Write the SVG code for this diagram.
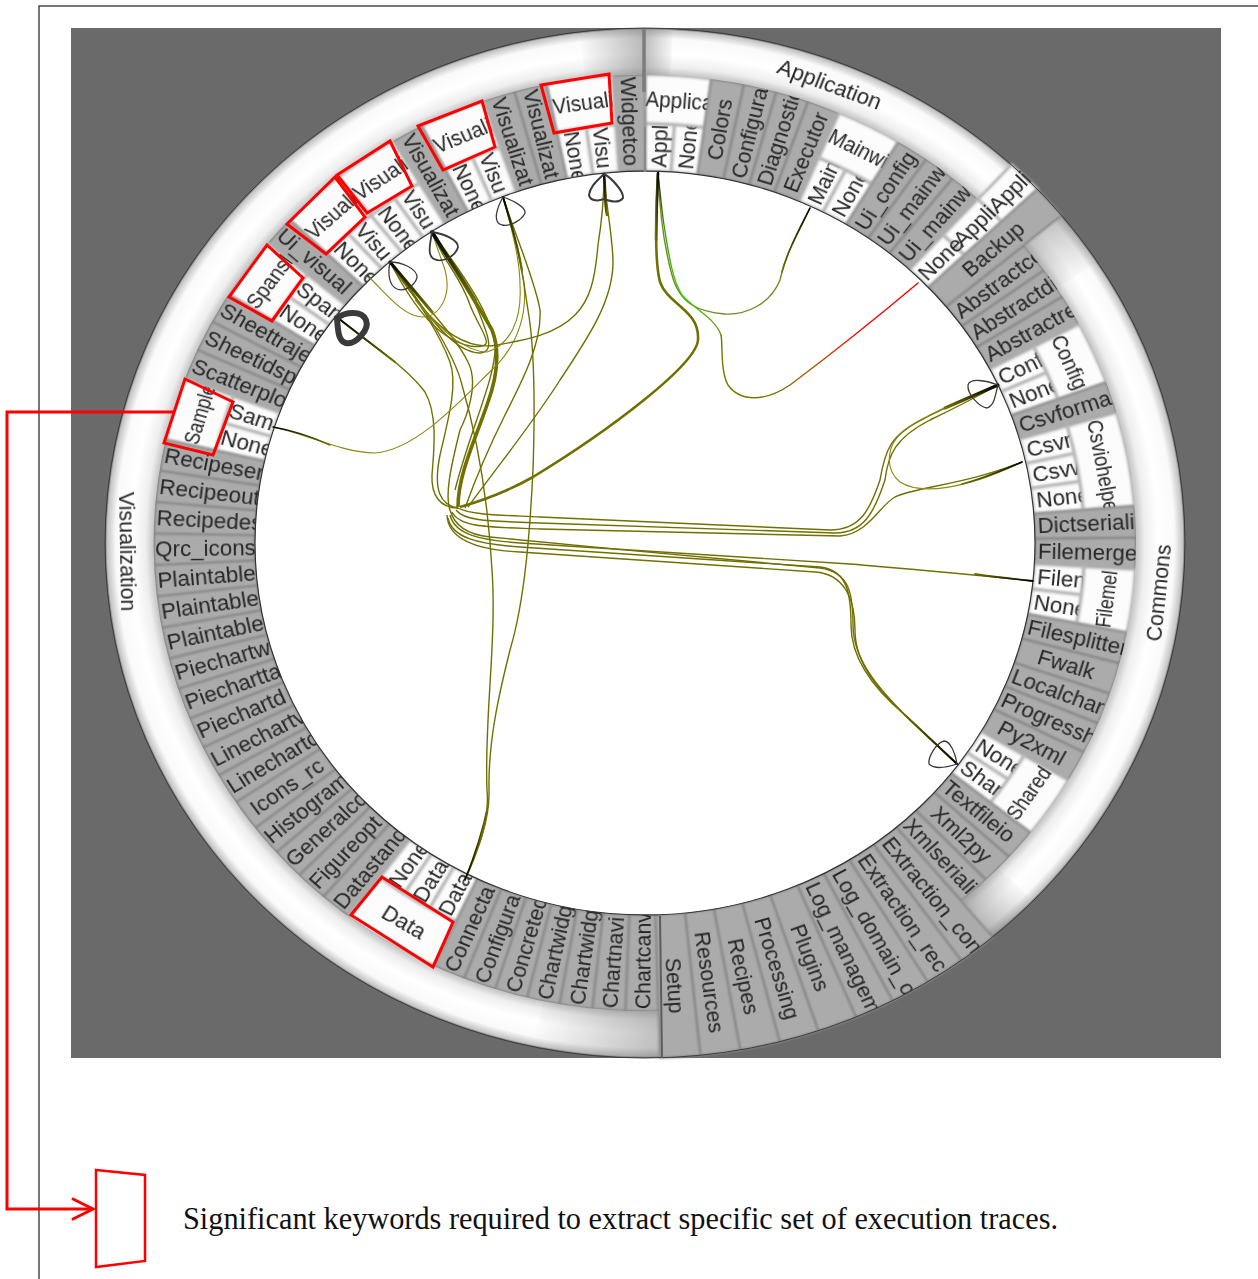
<svg xmlns="http://www.w3.org/2000/svg" width="1258" height="1279" viewBox="0 0 1258 1279">
<style>
text{font-family:"Liberation Sans",Arial,sans-serif;font-size:22.4px;fill:#262626;dominant-baseline:central;filter:url(#tb)}
.r{transform:rotate(-90deg)}
.l{transform:rotate(90deg)}
.m{text-anchor:middle}
.g{fill:#ababab;stroke:#868686;stroke-width:1.7;filter:url(#sb)}
.w{fill:#fcfcfc;stroke:#b8b8b8;stroke-width:3;filter:url(#sb)}
.cn{clip-path:url(#cn)}
.cb{clip-path:url(#cb)}
.cd{clip-path:url(#cd)}
.cs{clip-path:url(#cs)}
.e{fill:none;stroke:#707000;stroke-width:1.4}
.f{stroke:#8a8a10;stroke-width:1.1}
.t{fill:none;stroke-linecap:round}
.o{fill:none;stroke:#3a3a3a;stroke-width:1.3}
.x{fill:none;stroke:#f00;stroke-width:3;stroke-linejoin:miter}
#legend-text{font-family:"Liberation Serif","Times New Roman",serif;font-size:31px;fill:#111;dominant-baseline:auto;filter:none}
</style>
<defs>
<filter id="sb" x="-20%" y="-10%" width="140%" height="120%"><feGaussianBlur stdDeviation="1.2"/></filter>
<filter id="tb" x="-10%" y="-30%" width="120%" height="160%"><feGaussianBlur stdDeviation=".5"/></filter>
<path id="g" d="M-13.22-389.78L-16.64-490.72A491 491 0 0 1 16.64-490.72L13.22-389.78A390 390 0 0 0-13.22-389.78Z"/>
<path id="n" d="M-13.22-389.78L-14.91-439.75A440 440 0 0 1 14.91-439.75L13.22-389.78A390 390 0 0 0-13.22-389.78Z"/>
<path id="b" d="M-29.81-439L-33.27-489.87A491 491 0 0 1 33.27-489.87L29.81-439A440 440 0 0 0-29.81-439Z"/>
<path id="d" d="M-44.47-437.75L-49.62-488.49A491 491 0 0 1 49.62-488.49L44.47-437.75A440 440 0 0 0-44.47-437.75Z"/>
<path id="k" d="M-13.22-389.78L-18.31-539.69A540 540 0 0 1 18.31-539.69L13.22-389.78A390 390 0 0 0-13.22-389.78Z"/>
<path id="s" d="M-14.56-389.73L-20.16-539.62A540 540 0 0 1 20.16-539.62L14.56-389.73A390 390 0 0 0-14.56-389.73Z"/>
<path id="p" d="M-14.91-439.75L-16.64-490.72A491 491 0 0 1 16.64-490.72L14.91-439.75A440 440 0 0 0-14.91-439.75Z"/>
<path id="q" d="M-16.64-490.72L-18.31-539.69A540 540 0 0 1 18.31-539.69L16.64-490.72A491 491 0 0 0-16.64-490.72Z"/>
<clipPath id="cn"><use href="#n"/></clipPath>
<clipPath id="cb"><use href="#b"/></clipPath>
<clipPath id="cd"><use href="#d"/></clipPath>
<clipPath id="cs"><use href="#s"/></clipPath>
<radialGradient id="ring" gradientUnits="userSpaceOnUse" cx="0" cy="0" r="540">
<stop offset=".905" stop-color="#b8b8b8"/><stop offset=".925" stop-color="#eeeeee"/><stop offset=".95" stop-color="#fff"/><stop offset=".98" stop-color="#fafafa"/><stop offset=".996" stop-color="#c4c4c4"/><stop offset="1" stop-color="#5c5c5c"/>
</radialGradient>
<linearGradient id="f1" gradientUnits="userSpaceOnUse" x1="-66" y1="0" x2="0" y2="0"><stop offset="0" stop-color="#808080" stop-opacity="0"/><stop offset="1" stop-color="#808080" stop-opacity=".55"/></linearGradient>
<linearGradient id="f2" gradientUnits="userSpaceOnUse" x1="15" y1="0" x2="-112" y2="0"><stop offset="0" stop-color="#808080" stop-opacity=".5"/><stop offset="1" stop-color="#808080" stop-opacity="0"/></linearGradient>
<linearGradient id="f3" gradientUnits="userSpaceOnUse" x1="395" y1="-330" x2="435" y2="-275"><stop offset="0" stop-color="#808080" stop-opacity=".45"/><stop offset="1" stop-color="#808080" stop-opacity="0"/></linearGradient>
<linearGradient id="f4" gradientUnits="userSpaceOnUse" x1="332" y1="395" x2="375" y2="355"><stop offset="0" stop-color="#707070" stop-opacity=".5"/><stop offset="1" stop-color="#808080" stop-opacity="0"/></linearGradient>
<linearGradient id="f5" gradientUnits="userSpaceOnUse" x1="0" y1="0" x2="30" y2="0"><stop offset="0" stop-color="#808080" stop-opacity=".5"/><stop offset="1" stop-color="#808080" stop-opacity="0"/></linearGradient>
<linearGradient id="tl" x1="0" y1="0" x2="1" y2="1"><stop offset="0" stop-color="#000"/><stop offset="1" stop-color="#707000"/></linearGradient>
<linearGradient id="tr" x1="1" y1="0" x2="0" y2="1"><stop offset="0" stop-color="#000"/><stop offset="1" stop-color="#707000"/></linearGradient>
<linearGradient id="bl" x1="0" y1="1" x2="1" y2="0"><stop offset="0" stop-color="#000"/><stop offset="1" stop-color="#707000"/></linearGradient>
<linearGradient id="br" x1="1" y1="1" x2="0" y2="0"><stop offset="0" stop-color="#000"/><stop offset="1" stop-color="#707000"/></linearGradient>
<linearGradient id="rg" gradientUnits="userSpaceOnUse" x1="918" y1="283" x2="760" y2="400"><stop offset="0" stop-color="#e00"/><stop offset=".35" stop-color="#f00"/><stop offset=".7" stop-color="#a85a00"/><stop offset="1" stop-color="#767600"/></linearGradient>
<linearGradient id="gg" gradientUnits="userSpaceOnUse" x1="721" y1="340" x2="660" y2="175"><stop offset="0" stop-color="#708a00"/><stop offset=".3" stop-color="#3ccc14"/><stop offset=".7" stop-color="#3f9a00"/><stop offset="1" stop-color="#222"/></linearGradient>
</defs>
<rect width="1258" height="1279" fill="#fff"/>
<path d="M39 1279V6H1258" fill="none" stroke="#4a4a4a" stroke-width="1.5"/>
<rect x="71" y="28" width="1150" height="1030" fill="#6a6a6a"/>
<g id="wheel" transform="translate(645 543) scale(1 .9537)">
<g id="cells">
<g id="applica-appli" transform="rotate(1.94)"><use href="#n" class="w"/><g class="cn"><text class="r" x="394">Appli</text></g></g>
<g id="applica-none" transform="rotate(5.83)"><use href="#n" class="w"/><g class="cn"><text class="r" x="394">None</text></g></g>
<g id="applica" transform="rotate(3.885)"><use href="#b" class="w"/><g class="cb"><text x="-31" y="-465" textLength="68" lengthAdjust="spacingAndGlyphs">Applica</text></g></g>
<g id="colors" transform="rotate(9.71)"><use href="#g" class="g"/><text class="r m" x="440">Colors</text></g>
<g id="configura" transform="rotate(13.6)"><use href="#g" class="g"/><text class="r" x="394">Configura</text></g>
<g id="diagnosti" transform="rotate(17.48)"><use href="#g" class="g"/><text class="r" x="394">Diagnostic</text></g>
<g id="executor" transform="rotate(21.37)"><use href="#g" class="g"/><text class="r" x="396">Executor</text></g>
<g id="mainwi-main" transform="rotate(25.25)"><use href="#n" class="w"/><g class="cn"><text class="r" x="394">Main</text></g></g>
<g id="mainwi-none" transform="rotate(29.14)"><use href="#n" class="w"/><g class="cn"><text class="r" x="394">None</text></g></g>
<g id="mainwi" transform="rotate(27.2)"><use href="#b" class="w"/><g class="cb"><text x="-31" y="-465" textLength="64" lengthAdjust="spacingAndGlyphs">Mainwi</text></g></g>
<g id="ui-config" transform="rotate(33.02)"><use href="#g" class="g"/><text class="r" x="394">Ui_config</text></g>
<g id="ui-mainw1" transform="rotate(36.91)"><use href="#g" class="g"/><text class="r" x="394">Ui_mainw</text></g>
<g id="ui-mainw2" transform="rotate(40.79)"><use href="#g" class="g"/><text class="r" x="394">Ui_mainw</text></g>
<g id="abstractco" transform="rotate(52.44)"><use href="#g" class="g"/><text class="r" x="394">Abstractco</text></g>
<g id="abstractd" transform="rotate(56.33)"><use href="#g" class="g"/><text class="r" x="394">Abstractdi</text></g>
<g id="abstractre" transform="rotate(60.22)"><use href="#g" class="g"/><text class="r" x="394">Abstractre</text></g>
<g id="conf" transform="rotate(64.1)"><use href="#n" class="w"/><g class="cn"><text class="r" x="394">Conf</text></g></g>
<g id="conf-none" transform="rotate(67.99)"><use href="#n" class="w"/><g class="cn"><text class="r" x="394">None</text></g></g>
<g id="config" transform="rotate(66.05)"><use href="#b" class="w"/><g class="cb"><text x="-31" y="-465" textLength="60" lengthAdjust="spacingAndGlyphs">Config</text></g></g>
<g id="csvforma" transform="rotate(71.88)"><use href="#g" class="g"/><text class="r" x="394">Csvforma</text></g>
<g id="csvr" transform="rotate(75.77)"><use href="#n" class="w"/><g class="cn"><text class="r" x="394">Csvr</text></g></g>
<g id="csvw" transform="rotate(79.65)"><use href="#n" class="w"/><g class="cn"><text class="r" x="394">Csvw</text></g></g>
<g id="csv-none" transform="rotate(83.54)"><use href="#n" class="w"/><g class="cn"><text class="r" x="394">None</text></g></g>
<g id="csviohelpe" transform="rotate(79.65)"><use href="#d" class="w"/><g class="cd"><text x="-46" y="-465" textLength="97" lengthAdjust="spacingAndGlyphs">Csviohelpe</text></g></g>
<g id="dictseriali" transform="rotate(87.43)"><use href="#g" class="g"/><text class="r" x="393">Dictseriali</text></g>
<g id="filemerge" transform="rotate(91.32)"><use href="#g" class="g"/><text class="r" x="393">Filemerge</text></g>
<g id="filen" transform="rotate(95.2)"><use href="#n" class="w"/><g class="cn"><text class="r" x="394">Filen</text></g></g>
<g id="filen-none" transform="rotate(99.09)"><use href="#n" class="w"/><g class="cn"><text class="r" x="394">None</text></g></g>
<g id="filemel" transform="rotate(97.15)"><use href="#b" class="w"/><g class="cb"><text transform="rotate(180 0 -465)" x="-31" y="-465" textLength="60" lengthAdjust="spacingAndGlyphs">Filemel</text></g></g>
<g id="filesplitter" transform="rotate(102.98)"><use href="#g" class="g"/><text class="r" x="393">Filesplitter</text></g>
<g id="fwalk" transform="rotate(106.87)"><use href="#g" class="g"/><text class="r m" x="440">Fwalk</text></g>
<g id="localchar" transform="rotate(110.75)"><use href="#g" class="g"/><text class="r" x="393">Localchar</text></g>
<g id="progressh" transform="rotate(114.64)"><use href="#g" class="g"/><text class="r" x="393">Progressh</text></g>
<g id="py2xml" transform="rotate(118.53)"><use href="#g" class="g"/><text class="r m" x="440">Py2xml</text></g>
<g id="shared-none" transform="rotate(122.42)"><use href="#n" class="w"/><g class="cn"><text class="r" x="394">None</text></g></g>
<g id="shar" transform="rotate(126.3)"><use href="#n" class="w"/><g class="cn"><text class="r" x="394">Shar</text></g></g>
<g id="shared" transform="rotate(124.36)"><use href="#b" class="w"/><g class="cb"><text transform="rotate(180 0 -465)" x="-31" y="-465" textLength="62" lengthAdjust="spacingAndGlyphs">Shared</text></g></g>
<g id="textfileio" transform="rotate(130.19)"><use href="#g" class="g"/><text class="r" x="393">Textfileio</text></g>
<g id="xml2py" transform="rotate(134.08)"><use href="#g" class="g"/><text class="r m" x="440">Xml2py</text></g>
<g id="xmlseriali" transform="rotate(137.97)"><use href="#g" class="g"/><text class="r" x="393">Xmlseriali</text></g>
<g id="widgetco" transform="rotate(-1.93)"><use href="#g" class="g"/><text class="l" x="-489">Widgetco</text></g>
<g id="v1-visu" transform="rotate(-5.8)"><use href="#n" class="w"/><g class="cn"><text class="l" x="-438">Visu</text></g></g>
<g id="v1-none" transform="rotate(-9.66)"><use href="#n" class="w"/><g class="cn"><text class="l" x="-438">None</text></g></g>
<g id="v1" transform="rotate(-7.73)"><use href="#b" class="w"/><g class="cb"><text x="-30" y="-465" textLength="61" lengthAdjust="spacingAndGlyphs">Visuali</text></g></g>
<g id="visualizat1" transform="rotate(-13.52)"><use href="#g" class="g"/><text class="l" x="-489">Visualizat</text></g>
<g id="visualizat2" transform="rotate(-17.39)"><use href="#g" class="g"/><text class="l" x="-489">Visualizat</text></g>
<g id="v2-visu" transform="rotate(-21.25)"><use href="#n" class="w"/><g class="cn"><text class="l" x="-438">Visu</text></g></g>
<g id="v2-none" transform="rotate(-25.12)"><use href="#n" class="w"/><g class="cn"><text class="l" x="-438">None</text></g></g>
<g id="v2" transform="rotate(-23.18)"><use href="#b" class="w"/><g class="cb"><text x="-30" y="-465" textLength="61" lengthAdjust="spacingAndGlyphs">Visuali</text></g></g>
<g id="visualizat3" transform="rotate(-28.98)"><use href="#g" class="g"/><text class="l" x="-489">Visualizat</text></g>
<g id="v3-visu" transform="rotate(-32.85)"><use href="#n" class="w"/><g class="cn"><text class="l" x="-438">Visu</text></g></g>
<g id="v3-none" transform="rotate(-36.71)"><use href="#n" class="w"/><g class="cn"><text class="l" x="-438">None</text></g></g>
<g id="v3" transform="rotate(-34.78)"><use href="#b" class="w"/><g class="cb"><text x="-30" y="-465" textLength="61" lengthAdjust="spacingAndGlyphs">Visuali</text></g></g>
<g id="v4-visu" transform="rotate(-40.57)"><use href="#n" class="w"/><g class="cn"><text class="l" x="-438">Visu</text></g></g>
<g id="v4-none" transform="rotate(-44.44)"><use href="#n" class="w"/><g class="cn"><text class="l" x="-438">None</text></g></g>
<g id="v4" transform="rotate(-42.5)"><use href="#b" class="w"/><g class="cb"><text x="-30" y="-465" textLength="61" lengthAdjust="spacingAndGlyphs">Visuali</text></g></g>
<g id="ui-visual" transform="rotate(-48.3)"><use href="#g" class="g"/><text class="l" x="-489">Ui_visual</text></g>
<g id="span" transform="rotate(-52.16)"><use href="#n" class="w"/><g class="cn"><text class="l" x="-438">Span</text></g></g>
<g id="span-none" transform="rotate(-56.03)"><use href="#n" class="w"/><g class="cn"><text class="l" x="-438">None</text></g></g>
<g id="spansl" transform="rotate(-54.1)"><use href="#b" class="w"/><g class="cb"><text x="-30" y="-465" textLength="63" lengthAdjust="spacingAndGlyphs">Spansl</text></g></g>
<g id="sheettraj" transform="rotate(-59.89)"><use href="#g" class="g"/><text class="l" x="-489">Sheettraje</text></g>
<g id="sheetids" transform="rotate(-63.76)"><use href="#g" class="g"/><text class="l" x="-489">Sheetidsp</text></g>
<g id="scatterplo" transform="rotate(-67.62)"><use href="#g" class="g"/><text class="l" x="-489">Scatterplo</text></g>
<g id="sam" transform="rotate(-71.48)"><use href="#n" class="w"/><g class="cn"><text class="l" x="-438">Sam</text></g></g>
<g id="sam-none" transform="rotate(-75.35)"><use href="#n" class="w"/><g class="cn"><text class="l" x="-438">None</text></g></g>
<g id="sample" transform="rotate(-73.4)"><use href="#b" class="w"/><g class="cb"><text x="-30" y="-465" textLength="64" lengthAdjust="spacingAndGlyphs">Sample</text></g></g>
<g id="recipese" transform="rotate(-79.21)"><use href="#g" class="g"/><text class="l" x="-489">Recipeser</text></g>
<g id="recipeou" transform="rotate(-83.08)"><use href="#g" class="g"/><text class="l" x="-489">Recipeout</text></g>
<g id="recipede" transform="rotate(-86.94)"><use href="#g" class="g"/><text class="l" x="-489">Recipedes</text></g>
<g id="qrc-icons" transform="rotate(-90.8)"><use href="#g" class="g"/><text class="l" x="-490">Qrc_icons</text></g>
<g id="plaintable1" transform="rotate(-94.67)"><use href="#g" class="g"/><text class="l" x="-489">Plaintable</text></g>
<g id="plaintable2" transform="rotate(-98.53)"><use href="#g" class="g"/><text class="l" x="-489">Plaintable</text></g>
<g id="plaintable3" transform="rotate(-102.4)"><use href="#g" class="g"/><text class="l" x="-489">Plaintable</text></g>
<g id="piechartw" transform="rotate(-106.26)"><use href="#g" class="g"/><text class="l" x="-489">Piechartw</text></g>
<g id="piecharta" transform="rotate(-110.12)"><use href="#g" class="g"/><text class="l" x="-489">Piechartta</text></g>
<g id="piechartd" transform="rotate(-113.99)"><use href="#g" class="g"/><text class="l" x="-489">Piechartd</text></g>
<g id="linechart1" transform="rotate(-117.85)"><use href="#g" class="g"/><text class="l" x="-489">Linechartv</text></g>
<g id="linechart2" transform="rotate(-121.72)"><use href="#g" class="g"/><text class="l" x="-489">Linechartc</text></g>
<g id="icons-rc" transform="rotate(-125.58)"><use href="#g" class="g"/><text class="l m" x="-440">Icons_rc</text></g>
<g id="histogram" transform="rotate(-129.44)"><use href="#g" class="g"/><text class="l" x="-489">Histogram</text></g>
<g id="generalco" transform="rotate(-133.31)"><use href="#g" class="g"/><text class="l" x="-489">Generalco</text></g>
<g id="figureopt" transform="rotate(-137.17)"><use href="#g" class="g"/><text class="l" x="-489">Figureopt</text></g>
<g id="datastand" transform="rotate(-141.04)"><use href="#g" class="g"/><text class="l" x="-489">Datastand</text></g>
<g id="data-none" transform="rotate(-144.9)"><use href="#n" class="w"/><g class="cn"><text class="l" x="-438">None</text></g></g>
<g id="data1" transform="rotate(-148.76)"><use href="#n" class="w"/><g class="cn"><text class="l" x="-438">Data</text></g></g>
<g id="data2" transform="rotate(-152.63)"><use href="#n" class="w"/><g class="cn"><text class="l" x="-438">Data</text></g></g>
<g id="data" transform="rotate(-148.76)"><use href="#d" class="w"/><g class="cd"><text class="m" transform="rotate(180 0 -465)" y="-465">Data</text></g></g>
<g id="connecta" transform="rotate(-156.49)"><use href="#g" class="g"/><text class="l" x="-489">Connecta</text></g>
<g id="configura2" transform="rotate(-160.36)"><use href="#g" class="g"/><text class="l" x="-489">Configura</text></g>
<g id="concrete" transform="rotate(-164.22)"><use href="#g" class="g"/><text class="l" x="-489">Concreted</text></g>
<g id="chartwidg1" transform="rotate(-168.08)"><use href="#g" class="g"/><text class="l" x="-489">Chartwidg</text></g>
<g id="chartwidg2" transform="rotate(-171.95)"><use href="#g" class="g"/><text class="l" x="-489">Chartwidg</text></g>
<g id="chartnavi" transform="rotate(-175.81)"><use href="#g" class="g"/><text class="l" x="-489">Chartnavi</text></g>
<g id="chartcanv" transform="rotate(-179.68)"><use href="#g" class="g"/><text class="l" x="-489">Chartcanv</text></g>
</g>
<g id="rings">
<path d="M0-540A540 540 0 0 1 366.2-396.9L333-360.8A491 491 0 0 0 0-491Z" fill="url(#ring)"/>
<path d="M416.7-343.5A540 540 0 0 1 347.8 413L316.2 375.6A491 491 0 0 0 378.9-312.3Z" fill="url(#ring)"/>
<path d="M14.9 539.8A540 540 0 1 1 0-540L0-491A491 491 0 1 0 13.6 490.8Z" fill="url(#ring)"/>
<path d="M-65.8-536A540 540 0 0 1 0-540L0-491A491 491 0 0 0-59.8-487.3Z" fill="url(#f1)"/>
<path d="M14.9 539.8A540 540 0 0 1-112.3 528.2L-102.1 480.3A491 491 0 0 0 13.6 490.8Z" fill="url(#f2)"/>
<path d="M416.7-343.5A540 540 0 0 1 452.9-294.1L411.8-267.4A491 491 0 0 0 378.9-312.3Z" fill="url(#f3)"/>
<path d="M347.8 413A540 540 0 0 0 388.4 375.2L353.2 341.1A491 491 0 0 1 316.2 375.6Z" fill="url(#f4)"/>
<path d="M0-540A540 540 0 0 1 28-539.3L25.4-490.3A491 491 0 0 0 0-491Z" fill="url(#f5)"/>
<text id="label-application" class="m" transform="rotate(21)" y="-515">Application</text>
<text id="label-commons" class="m" transform="rotate(95.8) rotate(180 0 -516)" y="-516">Commons</text>
<text id="label-visualization" class="m" transform="rotate(-91) rotate(180 0 -517)" y="-517">Visualization</text>
</g>
<g id="none-appli" transform="rotate(44.68)"><use href="#n" class="w"/><use href="#p" class="w"/><use href="#q" class="w"/><text class="r" x="393">None</text><text class="r" x="443">Appli</text><text class="r" x="493">Appli</text></g>
<g id="backup" transform="rotate(48.56)"><use href="#k" class="g"/><text class="r m" x="465">Backup</text></g>
<g id="extraction-co" transform="rotate(142.04)"><use href="#s" class="g"/><g class="cs"><text class="r" x="394">Extraction_con</text></g></g>
<g id="extraction-rec" transform="rotate(146.32)"><use href="#s" class="g"/><g class="cs"><text class="r" x="394">Extraction_rec</text></g></g>
<g id="log-domain" transform="rotate(150.6)"><use href="#s" class="g"/><g class="cs"><text class="r" x="394">Log_domain_o</text></g></g>
<g id="log-manage" transform="rotate(154.88)"><use href="#s" class="g"/><g class="cs"><text class="r" x="394">Log_managem</text></g></g>
<g id="plugins" transform="rotate(159.16)"><use href="#s" class="g"/><text class="r m" x="465">Plugins</text></g>
<g id="processing" transform="rotate(163.44)"><use href="#s" class="g"/><text class="r m" x="465">Processing</text></g>
<g id="recipes" transform="rotate(167.72)"><use href="#s" class="g"/><text class="r m" x="465">Recipes</text></g>
<g id="resources" transform="rotate(172)"><use href="#s" class="g"/><text class="r m" x="465">Resources</text></g>
<g id="setup" transform="rotate(176.28)"><use href="#s" class="g"/><text class="r m" x="465">Setup</text></g>
<circle r="390" fill="#fff" stroke="#333" stroke-width="1.2"/>
<circle r="540" fill="none" stroke="#3a3a3a" stroke-width="1"/>
</g>
<path d="M644 29V92" stroke="#7c7c7c" stroke-width="3.5" fill="none"/>
<path d="M645 127V172" stroke="#8a8a8a" stroke-width="2" fill="none"/>
<path d="M660 916L662 1058" stroke="#5c5c5c" stroke-width="2" fill="none"/>
<g id="connectors">
<path class="e" style="stroke-width:3.6" d="M432 232C455 270 478 305 492 330C500 350 498 375 487 405C475 440 458 475 458 507"/>
<path class="e" style="stroke-width:2.6" d="M658 173C656 210 654 260 660 282C668 305 700 310 698 340C696 365 610 430 533 477C510 490 485 500 460 507"/>
<path class="e" d="M432 232C455 270 470 290 478 310C488 335 495 352 480 353C455 353 430 320 390 262"/>
<path class="e" d="M432 232C445 265 460 275 470 305C482 335 500 350 470 346C440 340 415 310 390 262"/>
<path class="e" d="M432 232C458 268 490 310 495 345C497 375 470 430 455 490"/>
<path class="e" d="M390 262C415 295 440 335 450 362C458 385 448 420 440 455C433 490 440 505 458 508"/>
<path class="e" d="M390 262C420 300 455 335 468 362C480 385 465 420 460 430C450 470 445 495 450 510C455 528 470 535 490 537C600 548 760 562 820 568C850 572 853 595 853 625C853 660 880 690 905 715C925 735 945 752 957 764"/>
<path class="e" d="M458 508C470 515 500 515 540 517L830 530C860 530 870 510 880 480C885 450 890 435 925 418C950 405 975 395 998 385"/>
<path class="e" d="M456 510C465 522 495 521 540 523L835 533C865 533 875 510 885 480C888 455 895 438 930 420C955 408 980 395 998 385"/>
<path class="e" d="M452 512C460 528 490 527 540 529L840 536C868 534 880 505 895 497C915 487 965 485 1022 462"/>
<path class="e f" d="M998 385C960 400 925 415 905 430C885 445 885 470 900 482C920 495 965 490 1022 462"/>
<path class="e" d="M450 515C455 535 480 540 520 543C650 552 760 558 850 564C920 570 980 575 1033 581"/>
<path class="e" d="M448 518C452 538 478 544 520 547L820 567C848 570 851 595 851 625C851 660 875 690 905 715L957 764"/>
<path class="e" d="M447 515C448 540 478 550 520 552L815 572C845 574 855 600 855 630C855 665 880 692 908 718L957 764"/>
<path class="e" d="M338 318C370 345 405 365 425 392C438 415 434 450 432 475C431 495 440 508 458 508"/>
<path class="e f" d="M273 427C310 435 340 452 375 453C420 450 470 390 497 365C520 340 530 310 522 270C518 245 512 225 503 197"/>
<path class="e" d="M503 197C515 235 535 280 540 310C542 345 520 385 505 415C490 445 475 480 465 508"/>
<path class="e" d="M604 174C606 205 613 240 613 262C613 300 590 335 560 380C535 420 495 470 468 507"/>
<path class="e" d="M604 174C604 200 602 220 598 245C595 280 590 300 575 315C555 335 525 340 497 345C470 350 445 335 420 305C410 290 400 280 390 262"/>
<path class="e f" d="M370 278C388 296 405 317 422 317C440 317 452 295 445 270C440 255 436 245 432 232"/>
<path class="e" d="M465 880C478 850 490 820 489 790C488 740 500 690 510 650C525 600 530 530 533 470C535 410 535 350 528 310C522 265 512 225 503 197"/>
<path class="e" d="M465 880C478 850 490 820 487 790C484 720 497 640 492 570C488 500 478 440 462 385C455 355 420 300 390 262"/>
<path class="e f" d="M503 197C512 230 520 260 520 285C522 320 510 345 487 352C465 352 440 330 415 300"/>
<path class="e" style="stroke:#708a20" d="M810 208C795 240 785 255 780 280C770 305 745 315 725 314C700 312 680 305 672 275C665 250 660 220 658 173"/>
<path class="t" stroke="url(#rg)" stroke-width="1.4" d="M918 283C880 315 830 355 790 385C765 402 740 402 728 385C720 370 723 345 721 335"/>
<path class="t" stroke="url(#gg)" stroke-width="1.3" d="M721 335C715 318 695 310 682 295C672 280 668 250 664 225C661 205 660 190 658 173"/>
<path class="t" stroke="url(#tl)" stroke-width="3" d="M390 262L432 312"/>
<path class="t" stroke="url(#tl)" stroke-width="3.5" d="M432 232C448 258 460 275 475 300"/>
<path class="t" stroke="url(#tl)" stroke-width="2" d="M503 197C510 220 518 245 522 270"/>
<path class="t" stroke="url(#tl)" stroke-width="2.5" d="M604 174C606 190 604 200 607 215"/>
<path class="t" stroke="url(#tr)" stroke-width="2.5" d="M658 173C657 190 657 205 656 240"/>
<path class="t" stroke="url(#tr)" stroke-width="3" d="M998 385L945 408"/>
<path class="t" stroke="url(#tr)" stroke-width="1.8" d="M1022 462C1003 470 985 478 962 484"/>
<path class="t" stroke="url(#br)" stroke-width="1.8" d="M1033 581C1013 579 995 577 975 574"/>
<path class="t" stroke="url(#br)" stroke-width="2" d="M957 764L905 715"/>
<path class="t" stroke="url(#bl)" stroke-width="1.6" d="M465 880C475 855 482 835 488 805"/>
<path class="t" stroke="url(#tr)" stroke-width="1.6" d="M810 208C798 232 788 250 782 272"/>
<path class="t" stroke="url(#tl)" stroke-width="1.5" d="M273 427C290 430 310 436 330 445"/>
<path class="t" stroke="url(#tl)" stroke-width="2" d="M338 318L395 362"/>
<path class="o" style="stroke-width:6" d="M337 318C345 312 362 310 366 320C370 330 355 345 346 343C338 341 338 330 337 318Z"/>
<path class="o" d="M390 262C400 262 418 268 417 278C414 286 405 292 397 289C388 285 388 272 390 262Z"/>
<path class="o" style="stroke-width:1.8" d="M432 232C445 234 458 240 458 247C456 255 445 262 437 260C426 258 430 245 432 232Z"/>
<path class="o" d="M503 197C512 200 526 207 525 213C522 220 510 227 502 225C492 222 497 208 503 197Z"/>
<path class="o" style="stroke-width:2" d="M604 174C612 178 624 192 623 198C618 204 610 201 604 199C596 202 590 200 589 195C590 186 598 180 604 174Z"/>
<path class="o" d="M998 385C985 380 970 378 968 385C967 395 980 407 987 408C995 405 995 395 998 385Z"/>
<path class="o" d="M957 764C955 752 950 741 944 741C936 743 928 757 929 764C935 770 948 767 957 764Z"/>
</g>
<g id="highlights">
<path class="x" d="M185 379L233 402L213 455L164 443Z"/>
<path class="x" d="M267 245L303 278L272 321L229 297Z"/>
<path class="x" d="M335 177L365 217L326 254L287 224Z"/>
<path class="x" d="M337 175L390 141L412 186L367 213Z"/>
<path class="x" d="M418 126L482 101L495 147L443 170Z"/>
<path class="x" d="M541 85L609 74L612 123L554 133Z"/>
<path class="x" d="M382 877L453 922L433 967L351 915Z"/>
</g>
<g id="legend">
<path class="x" d="M175 412H7V1209H92"/>
<path class="x" d="M73 1199L93 1209L73 1219" stroke-linecap="round"/>
<path class="x" style="stroke-width:2.5" d="M96 1170L145 1175V1261L96 1267Z"/>
<text id="legend-text" x="183" y="1229" textLength="875" lengthAdjust="spacingAndGlyphs">Significant keywords required to extract specific set of execution traces.</text>
</g>
</svg>
